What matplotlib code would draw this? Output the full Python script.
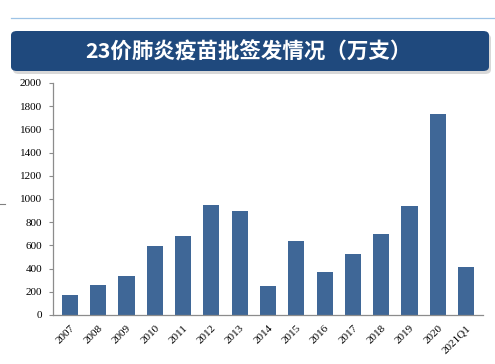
import matplotlib
matplotlib.use("Agg")
import matplotlib.pyplot as plt
from matplotlib.patches import FancyBboxPatch
from matplotlib.lines import Line2D

categories = ["2007", "2008", "2009", "2010", "2011", "2012", "2013", "2014",
              "2015", "2016", "2017", "2018", "2019", "2020", "2021Q1"]
values = [170, 260, 340, 595, 685, 950, 895, 250,
          640, 370, 525, 700, 940, 1735, 415]
title = "23价肺炎疫苗批签发情况（万支）"

W, H = 495, 364
fig = plt.figure(figsize=(W / 100, H / 100), dpi=100)

# light blue rule at the top
fig.add_artist(Line2D([11 / W, 1.0], [1 - 18 / H, 1 - 18 / H],
                      color="#9DC3E6", lw=0.9))

# shadow + title box
fig.add_artist(FancyBboxPatch((13 / W, 1 - 74 / H), 478 / W, 40 / H,
                              boxstyle="round,pad=0,rounding_size=0.012",
                              fc="#BFBFBF", ec="none", alpha=0.6))
fig.add_artist(FancyBboxPatch((11 / W, 1 - 71 / H), 478 / W, 40 / H,
                              boxstyle="round,pad=0,rounding_size=0.012",
                              fc="#1F497D", ec="none"))
fig.text(248 / W, 1 - 52 / H, title, color="white", fontsize=15.5,
         fontweight="bold", ha="center", va="center",
         family=["Noto Sans CJK SC", "DejaVu Sans"])

# small dash on the left edge
fig.add_artist(Line2D([0, 5 / W], [1 - 204 / H, 1 - 204 / H],
                      color="#808080", lw=0.8))

ax = fig.add_axes([53 / W, 1 - 315 / H, 430 / W, 232 / H])
x = range(len(categories))
ax.bar(x, values, width=0.57, color="#3F6797")
ax.set_xlim(-0.6, len(categories) - 0.4)
ax.set_ylim(0, 2000)
ax.set_yticks(range(0, 2001, 200))
ax.set_xticks(list(x))
ax.set_xticklabels(categories, rotation=45, ha="right", rotation_mode="anchor")

for s in ["top", "right"]:
    ax.spines[s].set_visible(False)
for s in ["left", "bottom"]:
    ax.spines[s].set_color("#8C8C8C")
    ax.spines[s].set_linewidth(0.9)

ax.tick_params(axis="y", length=3, color="#8C8C8C", labelsize=8, pad=5)
ax.tick_params(axis="x", length=0, labelsize=8, pad=6)
for lab in ax.get_xticklabels() + ax.get_yticklabels():
    lab.set_family("Liberation Serif")

fig.savefig("out.png", dpi=100)
